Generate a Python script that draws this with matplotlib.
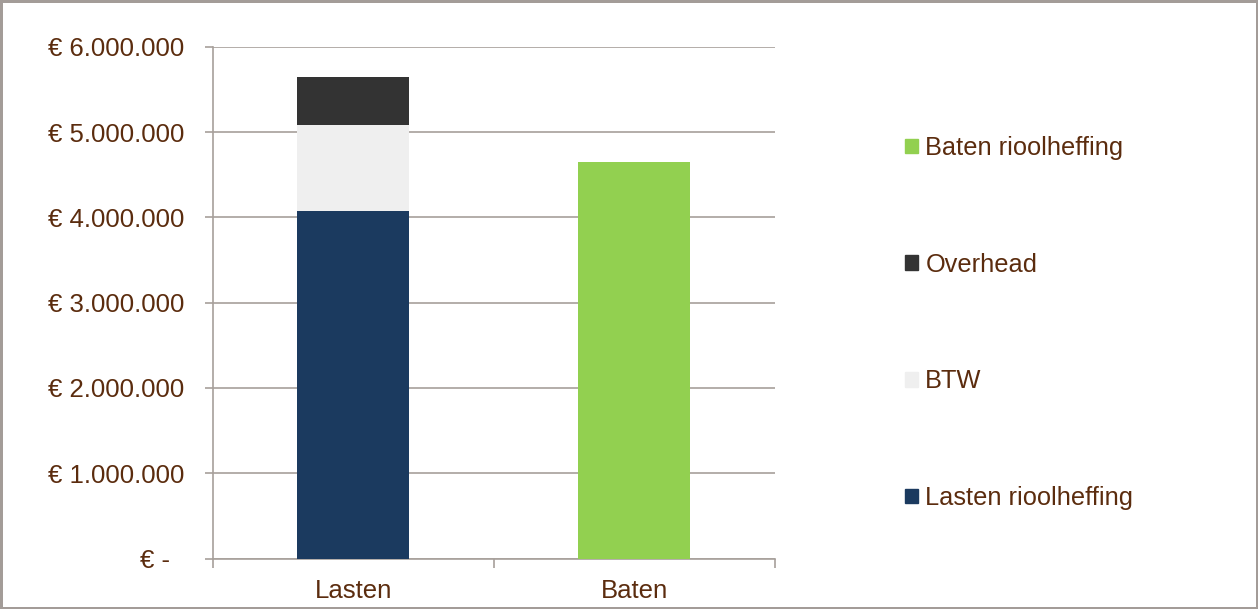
import matplotlib.pyplot as plt
import matplotlib.ticker as mticker
from matplotlib.patches import Patch

categories = ["Lasten", "Baten"]
lasten_riool = [4070000, 0]
btw = [1015000, 0]
overhead = [560000, 0]
baten_riool = [0, 4648000]

series = ["Lasten rioolheffing", "BTW", "Overhead", "Baten rioolheffing"]
colors = ["#1B3A5F", "#EFEFEF", "#333333", "#92D050"]
yticks = [0, 1000000, 2000000, 3000000, 4000000, 5000000, 6000000]

txt = "#5B2C0E"
grid_c = "#A7A09B"

plt.rcParams['font.family'] = ['Liberation Sans', 'DejaVu Sans']

fig = plt.figure(figsize=(12.58, 6.09), dpi=100, edgecolor="#A39C98", linewidth=2.5)
ax = fig.add_axes([212.5 / 1258, 1 - 558.5 / 609, (775 - 212.5) / 1258, (558.5 - 46.7) / 609])

x = range(len(categories))
w = 0.398
bottom = [0, 0]
for name, vals, col in zip(series, [lasten_riool, btw, overhead, baten_riool], colors):
    ax.bar(x, vals, w, bottom=bottom, color=col, label=name, zorder=3)
    bottom = [b + v for b, v in zip(bottom, vals)]

ax.set_xlim(-0.5, 1.5)
ax.set_ylim(0, 6000000)
ax.set_yticks(yticks)

def euro(v, pos):
    if v == 0:
        return "€ -  "
    return "€ " + f"{int(v):,}".replace(",", ".")

ax.yaxis.set_major_formatter(mticker.FuncFormatter(euro))
ax.set_xticks(list(x))
ax.set_xticklabels(categories)
ax.set_xticks([-0.5, 0.5, 1.5], minor=True)
ax.tick_params(axis="x", which="major", length=0, pad=15, labelsize=18.5, labelcolor=txt)
ax.tick_params(axis="x", which="minor", length=6.5, width=1.2, color=grid_c)
ax.tick_params(axis="y", length=6, width=1.2, color=grid_c, pad=14, labelsize=18.5, labelcolor=txt)

ax.grid(axis="y", color=grid_c, linewidth=1.2, zorder=0)
for s in ["top", "right"]:
    ax.spines[s].set_visible(False)
for s in ["left", "bottom"]:
    ax.spines[s].set_color(grid_c)
    ax.spines[s].set_linewidth(1.2)

handles = [Patch(color=c, label=n) for n, c in zip(series, colors)][::-1]
leg = fig.legend(handles=handles, loc="center left", bbox_to_anchor=(905 / 1258, 1 - 323 / 609),
                 frameon=False, fontsize=18.3, labelcolor=txt, handlelength=0.5, handleheight=0.5,
                 handletextpad=0.3, labelspacing=3.65, borderpad=0, borderaxespad=0)

fig.savefig("out.png", dpi=100)
